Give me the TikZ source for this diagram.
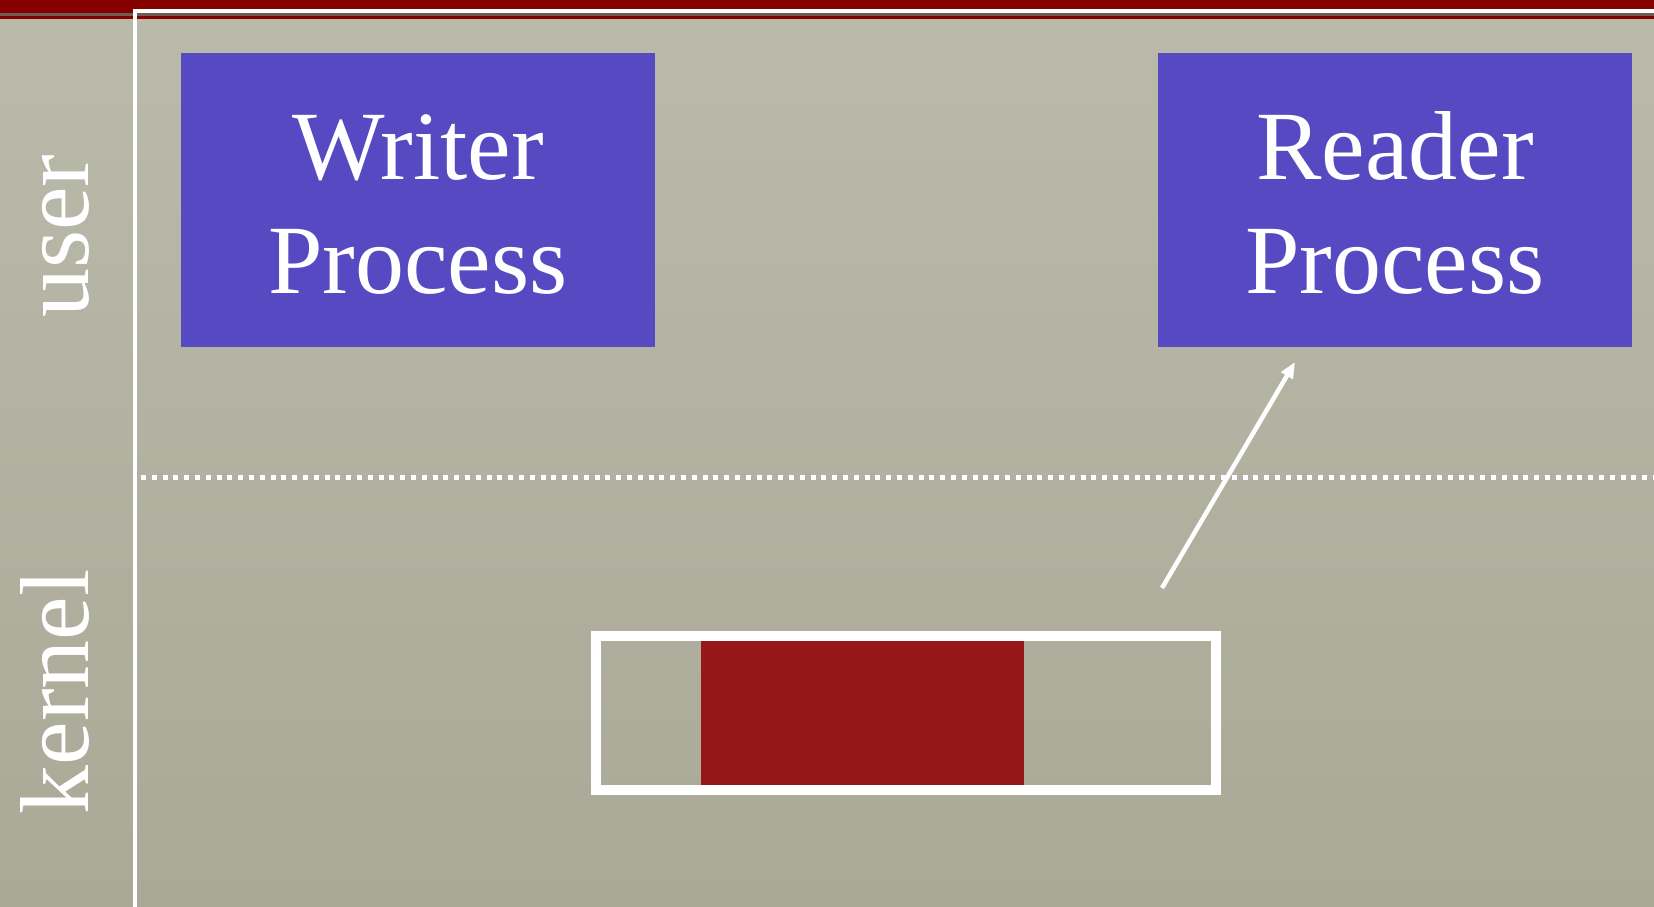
\documentclass[tikz,border=0pt]{standalone}
\usepackage{fontspec}
\setmainfont{Liberation Serif}
\usetikzlibrary{arrows.meta}
\definecolor{bandred}{RGB}{134,0,0}
\definecolor{bandgrey}{RGB}{112,92,86}
\definecolor{bgtop}{RGB}{186,186,171}
\definecolor{bgbot}{RGB}{170,169,151}
\definecolor{procblue}{RGB}{87,73,193}
\definecolor{datared}{RGB}{151,23,25}
\tikzset{
  procbox/.style={fill=procblue, draw=none, minimum width=474, minimum height=294, inner sep=0},
  bigtext/.style={text=white, inner sep=0, font=\fontsize{98}{114}\selectfont},
  sidelabel/.style={bigtext, rotate=90, anchor=base},
  divider/.style={white, line width=4},
  flowarrow/.style={white, line width=4.5, -{Triangle[length=16,width=13]}}
}
\begin{document}
\begin{tikzpicture}[x=1pt,y=-1pt]
\useasboundingbox (0,0) rectangle (1654,907);
% backdrop and title band
\shade[top color=bgtop, bottom color=bgbot] (0,19) rectangle (1654,907);
\fill[bandred] (0,0) rectangle (1654,19);
\fill[bandgrey] (0,13) rectangle (1654,16.5);
% frame lines
\draw[divider] (135,11) -- (1654,11);
\draw[divider] (135,9) -- (135,907);
% user / kernel boundary
\draw[white, line width=5, dash pattern=on 5 off 5.8] (141,477) -- (1654,477);
% side labels
\node[sidelabel] (user) at (88,236) {user};
\node[sidelabel] (kernel) at (88,692) {kernel};
% processes
\node[procbox] (writer) at (418,200) {};
\node[bigtext, anchor=base] (writer1) at (418,179) {Writer};
\node[bigtext, anchor=base] (writer2) at (418,293) {Process};
\node[procbox] (reader) at (1395,200) {};
\node[bigtext, anchor=base] (reader1) at (1395,179) {Reader};
\node[bigtext, anchor=base] (reader2) at (1395,293) {Process};
% kernel buffer with its filled part
\node[fill=datared, minimum width=323, minimum height=144, inner sep=0] (data) at (862.5,713) {};
\node[draw=white, line width=10, minimum width=620, minimum height=154, inner sep=0] (buffer) at (906,713) {};
% read from the buffer into the reader
\coordinate (readfrom) at (1162,588);
\coordinate (readto) at (1295,362);
\draw[flowarrow] (readfrom) -- (readto);
\end{tikzpicture}
\end{document}
